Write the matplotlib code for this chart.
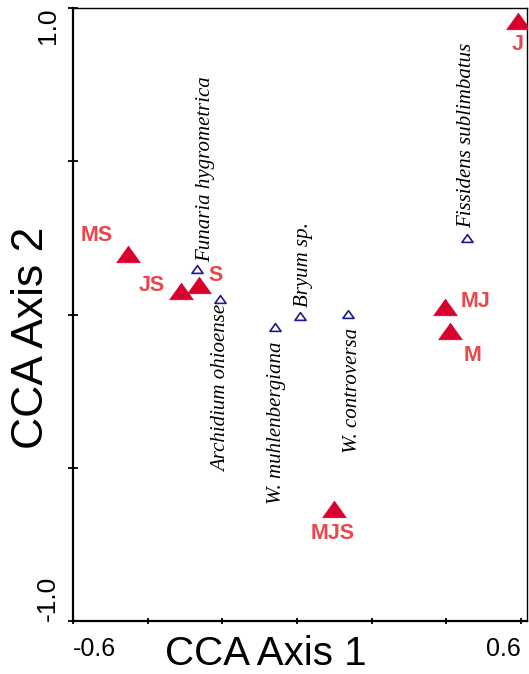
import matplotlib
matplotlib.use("Agg")
import matplotlib.pyplot as plt
from matplotlib.path import Path

# Site scores (sampling-period combinations)
site_names = ["J", "MJ", "M", "MS", "JS", "S", "MJS"]
site_x = [0.592, 0.397, 0.410, -0.452, -0.311, -0.262, 0.100]
site_y = [0.958, 0.023, -0.055, 0.196, 0.076, 0.095, -0.635]

# Species scores
species_names = ["Funaria hygrometrica", "Archidium ohioense", "W. muhlenbergiana",
                 "Bryum sp.", "W. controversa", "Fissidens sublimbatus"]
species_x = [-0.267, -0.207, -0.058, 0.008, 0.137, 0.456]
species_y = [0.147, 0.051, -0.042, -0.005, 0.002, 0.250]

x_ticks = [-0.6, -0.4, -0.2, 0.0, 0.2, 0.4, 0.6]
x_ticklabels = ["-0.6", "", "", "", "", "", "0.6"]
y_ticks = [-1.0, -0.5, 0.0, 0.5, 1.0]
y_ticklabels = ["-1.0", "", "", "", "1.0"]

PX = 72 / 100  # pixel -> point

# label placement (pixel offsets from the marker; y up)
site_offsets = {"J": (0, -24), "MJ": (30, 5.5), "M": (22, -24.5), "MS": (-32, 19),
                "JS": (-29, 6), "S": (16, 10), "MJS": (-1.5, -24)}
species_layout = {
    "Funaria hygrometrica": ((8, 7), "bottom"),
    "Archidium ohioense": ((2, -6), "top"),
    "W. muhlenbergiana": ((1, -14), "top"),
    "Bryum sp.": ((3, 9), "bottom"),
    "W. controversa": ((4, -14), "top"),
    "Fissidens sublimbatus": ((-1, 10), "bottom"),
}

RED = "#d9002e"
LABEL_RED = "#e8474b"
NAVY = "#1b1b8c"

# flattened upward triangle
tri = Path([(-1, -0.7), (1, -0.7), (0, 0.7), (-1, -0.7)],
           [Path.MOVETO, Path.LINETO, Path.LINETO, Path.CLOSEPOLY])

fig = plt.figure(figsize=(5.29, 6.74), dpi=100)
ax = fig.add_axes([73 / 529, 53 / 674, 454 / 529, 613 / 674])

ax.plot(species_x, species_y, linestyle="none", marker=tri, markersize=8,
        markerfacecolor="white", markeredgecolor=NAVY, markeredgewidth=1.2, zorder=3)
ax.plot(site_x, site_y, linestyle="none", marker=tri, markersize=17,
        markerfacecolor=RED, markeredgecolor=RED, markeredgewidth=0.5, zorder=4)

for name, x, y in zip(site_names, site_x, site_y):
    dx, dy = site_offsets[name]
    ax.annotate(name, (x, y), xytext=(dx * PX, dy * PX), textcoords="offset points",
                ha="center", va="center", color=LABEL_RED, fontsize=15.5,
                fontweight="bold", family="Liberation Sans", zorder=5)

for name, x, y in zip(species_names, species_x, species_y):
    (dx, dy), va = species_layout[name]
    ax.annotate(name, (x, y), xytext=(dx * PX, dy * PX), textcoords="offset points",
                ha="center", va=va, rotation=90, fontsize=15, fontstyle="italic",
                family="Liberation Serif", color="black", zorder=5)

ax.set_xlim(-0.6, 0.616)
ax.set_ylim(-1.0, 1.0)

ax.set_xticks(x_ticks)
ax.set_xticklabels(x_ticklabels, fontsize=18, family="Liberation Sans")
ax.set_yticks(y_ticks)
ax.set_yticklabels(y_ticklabels, fontsize=19, family="Liberation Sans", rotation=90)
ax.tick_params(axis="x", direction="inout", length=5, width=1.3, pad=9)
ax.tick_params(axis="y", direction="inout", length=6.5, width=1.3, pad=6)

xl = ax.get_xticklabels()
xl[0].set_ha("left")
xl[-1].set_ha("right")
yl = ax.get_yticklabels()
yl[0].set_va("bottom")
yl[-1].set_va("top")

for side in ("left", "bottom"):
    ax.spines[side].set_linewidth(1.6)
for side in ("top", "right"):
    ax.spines[side].set_linewidth(1.0)

ax.set_xlabel("CCA Axis 1", fontsize=29, family="Liberation Sans")
ax.xaxis.label.set_va("bottom")
ax.xaxis.set_label_coords((265.5 - 73) / 454, (621 - 673) / 613)

ax.set_ylabel("CCA Axis 2", fontsize=32, family="Liberation Sans")
ax.yaxis.label.set_va("center")
ax.yaxis.label.set_ha("center")
ax.yaxis.set_label_coords((32 - 73) / 454, (621 - 338) / 613)

fig.savefig("out.png", dpi=100)
